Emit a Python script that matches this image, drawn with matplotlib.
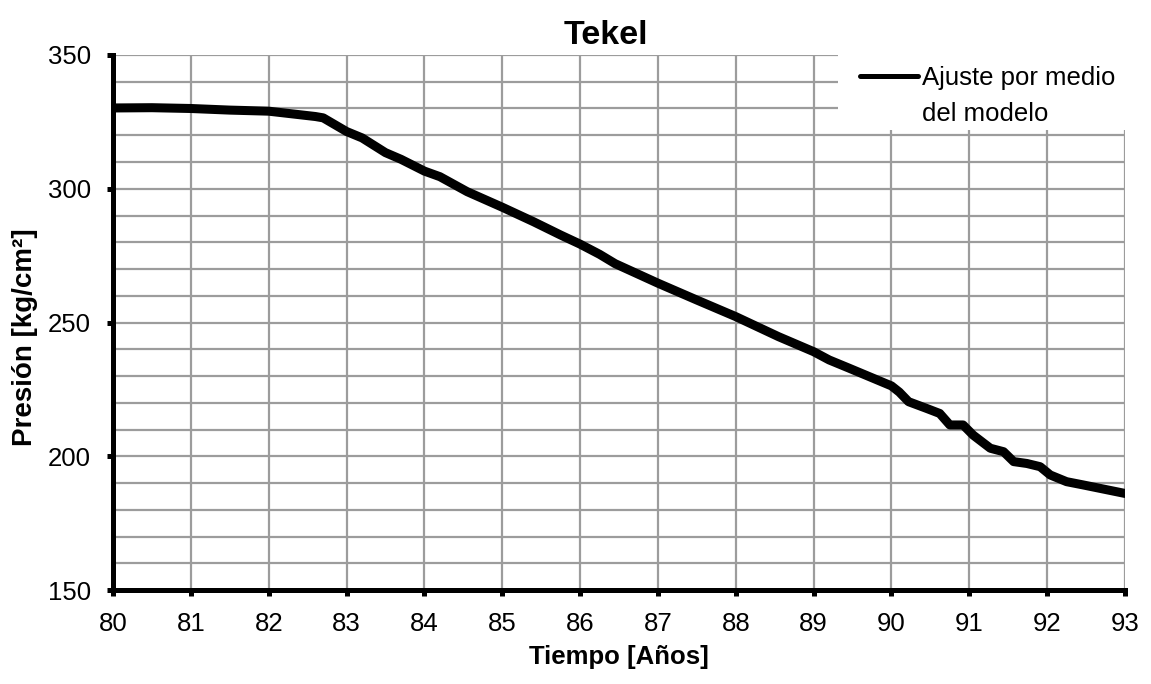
import numpy as np
import matplotlib
matplotlib.use('Agg')
from matplotlib import pyplot as plt
from matplotlib.lines import Line2D
from matplotlib.patches import Rectangle
from matplotlib.ticker import MultipleLocator

plt.rcParams['font.family'] = ['Liberation Sans', 'DejaVu Sans']

TITLE = 'Tekel'
X_LABEL = 'Tiempo [Años]'
Y_LABEL = 'Presión [kg/cm²]'
LEGEND_LINES = ['Ajuste por medio', 'del modelo']

# curve (year, pressure)
years = [80.0, 80.5, 81.0, 81.5, 82.0, 82.3, 82.6, 82.7, 83.0, 83.2, 83.5,
         83.7, 84.0, 84.2, 84.55, 85.0, 85.4, 85.75, 86.0, 86.25, 86.45,
         87.0, 87.5, 88.0, 88.55, 89.0, 89.2, 89.45, 90.0, 90.1, 90.22,
         90.45, 90.62, 90.75, 90.92, 91.05, 91.27, 91.44, 91.57, 91.74,
         91.91, 92.04, 92.25, 92.46, 93.0]
pressure = [330.2, 330.3, 330.0, 329.4, 329.0, 328.0, 327.0, 326.5, 321.4,
            319.0, 313.5, 311.0, 306.6, 304.5, 298.9, 293.1, 287.7, 282.7,
            279.3, 275.5, 272.0, 264.7, 258.4, 252.2, 244.7, 239.1, 236.0,
            233.0, 226.3, 224.0, 220.4, 217.9, 216.0, 211.7, 211.7, 207.9,
            203.0, 201.7, 198.0, 197.3, 196.1, 193.0, 190.5, 189.3, 186.1]

X_TICKS = list(range(80, 94))
Y_TICKS = [150, 200, 250, 300, 350]

GRID = '#9c9c9c'


def main():
    fig = plt.figure(figsize=(11.51, 6.84), dpi=100)
    ax = fig.add_axes([0.0982, 0.1374, 0.8792, 0.7822])

    ax.plot(years, pressure, color='black', lw=6.5, solid_capstyle='round',
            solid_joinstyle='round', zorder=3)

    ax.set_xlim(80, 93)
    ax.set_ylim(150, 350)
    ax.set_xticks(X_TICKS)
    ax.set_yticks(Y_TICKS)
    ax.yaxis.set_minor_locator(MultipleLocator(10))

    ax.grid(True, which='major', color=GRID, lw=1.6, zorder=0)
    ax.grid(True, which='minor', axis='y', color=GRID, lw=1.6, zorder=0)
    ax.set_axisbelow(True)

    for side in ['top', 'right']:
        ax.spines[side].set_visible(False)
    for side in ['left', 'bottom']:
        ax.spines[side].set_linewidth(3.6)
        ax.spines[side].set_zorder(4)

    ax.tick_params(which='major', direction='out', length=4, width=3.6,
                   labelsize=18.5, pad=12)
    ax.tick_params(which='minor', length=0)

    ax.set_title(TITLE, fontsize=24.5, fontweight='bold', pad=8, x=0.487)
    ax.set_xlabel(X_LABEL, fontsize=18.5, fontweight='bold', labelpad=6)
    ax.set_ylabel(Y_LABEL, fontsize=20, fontweight='bold')
    ax.yaxis.set_label_coords(-0.074, 0.473)

    # white legend area hiding the grid behind it
    ax.add_patch(Rectangle((0.7164, 0.8598), 0.30, 0.16, transform=ax.transAxes,
                           facecolor='white', edgecolor='none', clip_on=False,
                           zorder=2))

    handles = [Line2D([], [], color='black', lw=3.6, solid_capstyle='round'),
               Line2D([], [], color='none')]
    leg = ax.legend(handles, LEGEND_LINES, loc='upper left',
                    bbox_to_anchor=(0.7382, 0.979), fontsize=18.5,
                    frameon=False, handlelength=2.26, handletextpad=0.16,
                    borderpad=0.0, borderaxespad=0.0, labelspacing=0.47)
    leg.set_zorder(5)

    fig.savefig('out.png', dpi=100)
    plt.close('all')


if __name__ == '__main__':
    main()
